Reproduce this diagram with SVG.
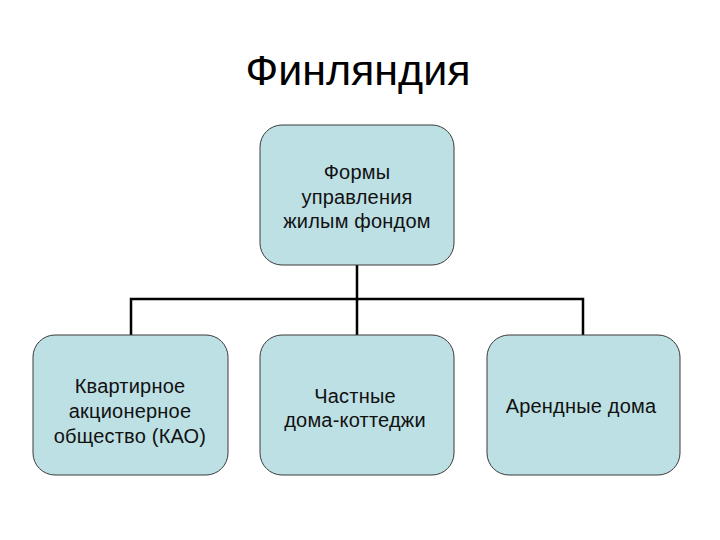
<svg xmlns="http://www.w3.org/2000/svg" width="720" height="540" viewBox="0 0 720 540">
<style>
.box{fill:#bde0e4;stroke:#3a3a3a;stroke-width:1}
.t{font-family:"Liberation Sans",Arial,sans-serif;font-size:20px;letter-spacing:0.2px;fill:#111;text-anchor:middle}
.title{font-family:"Liberation Sans",Arial,sans-serif;font-size:43px;fill:#000;text-anchor:middle}
.c{fill:none;stroke:#000;stroke-width:2.5}
</style>
<rect width="720" height="540" fill="#fff"/>
<text class="title" x="358" y="85">Финляндия</text>
<g id="connectors">
<path class="c" d="M357 265 V299 M131 335 V299 H583 V335 M357 299 V335"/>
</g>
<g id="root">
<rect class="box" x="260" y="125" width="194" height="140" rx="22"/>
<text class="t" x="357" y="179">Формы</text>
<text class="t" x="357" y="204">управления</text>
<text class="t" x="357" y="228">жилым фондом</text>
</g>
<g id="kao">
<rect class="box" x="33" y="335" width="195" height="140" rx="22"/>
<text class="t" x="130" y="393">Квартирное</text>
<text class="t" x="130" y="418">акционерное</text>
<text class="t" x="130" y="443">общество (КАО)</text>
</g>
<g id="private">
<rect class="box" x="260" y="335" width="194" height="140" rx="22"/>
<text class="t" x="355" y="403">Частные</text>
<text class="t" x="355" y="427">дома-коттеджи</text>
</g>
<g id="rental">
<rect class="box" x="487" y="335" width="193" height="140" rx="22"/>
<text class="t" x="581" y="413">Арендные дома</text>
</g>
</svg>
